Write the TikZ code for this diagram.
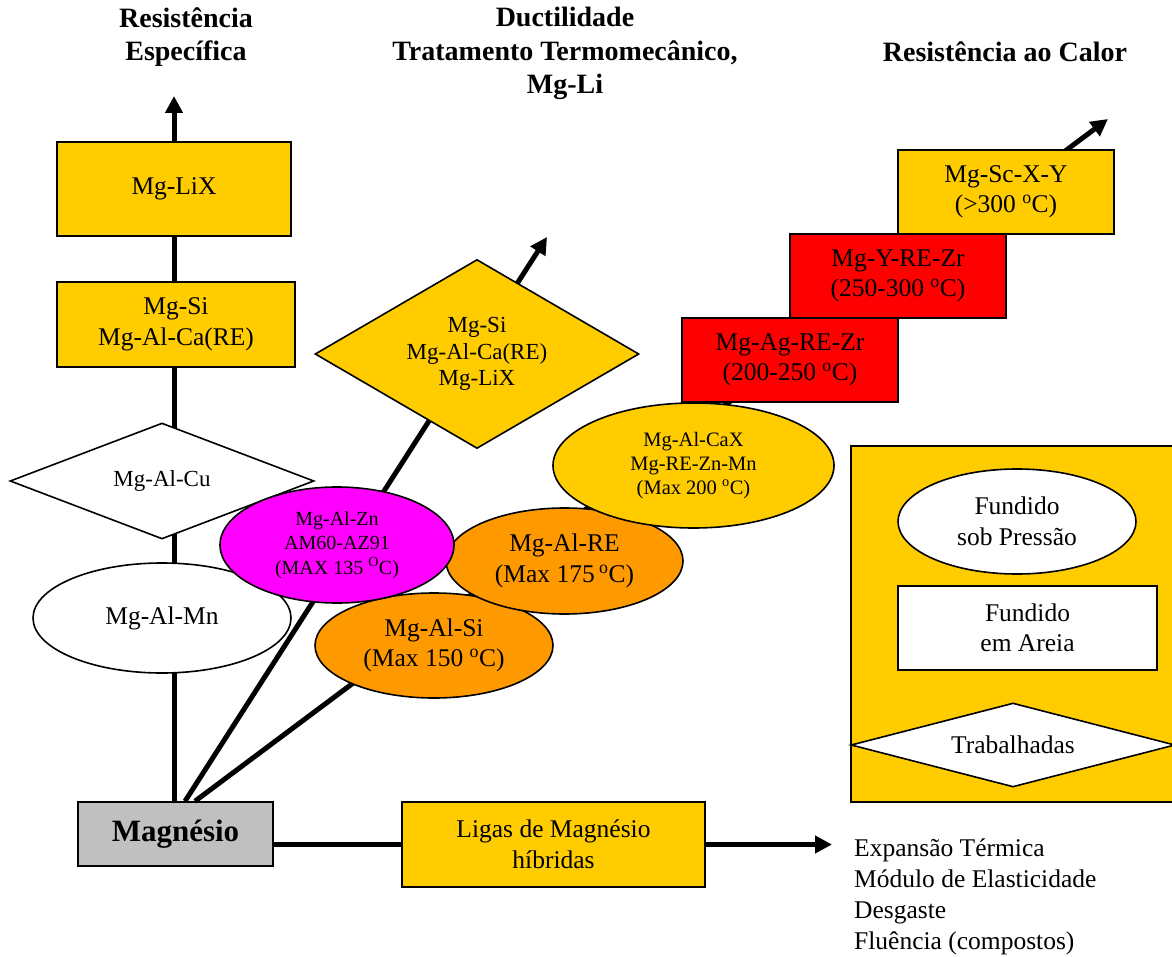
\documentclass[tikz,border=0pt]{standalone}
\usepackage{fontspec}
\setmainfont{Liberation Serif}
\usetikzlibrary{shapes.geometric,arrows.meta,calc}

\definecolor{gold}{HTML}{FFCC00}
\definecolor{amber}{HTML}{FF9900}
\definecolor{pink}{HTML}{FF00FF}
\definecolor{hot}{HTML}{FF0000}
\definecolor{metal}{HTML}{C0C0C0}

\newcommand{\dgr}{\textsuperscript{o}}

\tikzset{
  link/.style={line width=5pt},
  arr/.style={line width=5pt,-{Triangle[length=17pt,width=17pt]}},
  shp/.style={draw, line width=1.6pt, inner sep=0pt, align=center,
              font=\fontsize{25.5}{30.5}\selectfont},
  rbox/.style={shp, rectangle, minimum width=#1},
  ell/.style={shp, ellipse},
  dia/.style={shp, diamond},
  title/.style={align=center, font=\bfseries\fontsize{28}{33.5}\selectfont},
}

\begin{document}
\begin{tikzpicture}[x=1pt,y=-1pt]
\useasboundingbox (0,0) rectangle (1172,957);
\clip (0,0) rectangle (1172,957);

% headings of the three development directions
\node[title] (tRes) at (186,37) {Resistência\\Específica};
\node[title] (tDuc) at (565,53.5) {Ductilidade\\Tratamento Termomecânico,\\Mg-Li};
\node[title] (tCal) at (1005,52) {Resistência ao Calor};

% base material and hybrid alloys
\node[rbox=195pt, minimum height=64pt, fill=metal,
      font=\bfseries\fontsize{31}{36}\selectfont] (mag) at (175.5,834) {Magnésio};
\node[rbox=303pt, minimum height=85pt, fill=gold] (lig) at (553.5,844.5)
      {Ligas de Magnésio\\híbridas};

% axis end points
\coordinate (upTip) at (174,96);
\coordinate (ducTip) at (547,237);
\coordinate (calTip) at (1108,119);
\coordinate (propTip) at (832,844.5);

% connectors (drawn first, shapes sit on top)
\draw[arr] (mag.north -| upTip) -- (upTip);
\draw[arr] ($(mag.north)+(9.5,0)$) -- (ducTip);
\draw[arr] ($(mag.north)+(19.5,0)$) -- (calTip);
\draw[link] (lig.west -| mag.east) -- (lig.west);
\draw[arr] (lig.east) -- (propTip);

% specific strength branch
\node[rbox=234pt, minimum height=94pt, fill=gold] (lix) at (174,189) {Mg-LiX};
\node[rbox=238pt, minimum height=85pt, fill=gold] (mgsi) at (176,324.5)
      {Mg-Si\\Mg-Al-Ca(RE)};

% ductility branch
\node[dia, fill=gold, shape aspect=1.8, minimum width=324pt, minimum height=189pt,
      font=\fontsize{23}{26.5}\selectfont] (duc) at (477,354)
      {Mg-Si\\Mg-Al-Ca(RE)\\Mg-LiX};

% heat resistance branch
\node[rbox=216pt, minimum height=84pt, fill=gold] (sc) at (1006,192)
      {Mg-Sc-X-Y\\(>300 \dgr C)};
\node[rbox=216pt, minimum height=84pt, fill=hot] (yre) at (898,276)
      {Mg-Y-RE-Zr\\(250-300 \dgr C)};
\node[rbox=216pt, minimum height=84pt, fill=hot] (agre) at (790,360)
      {Mg-Ag-RE-Zr\\(200-250 \dgr C)};

% common alloys near the base
\node[ell, fill=amber, minimum width=238pt, minimum height=105pt] (alsi) at (434,645.5)
      {Mg-Al-Si\\(Max 150 \dgr C)};
\node[ell, fill=amber, minimum width=237pt, minimum height=106pt] (alre) at (564.5,561)
      {Mg-Al-RE\\(Max 175\,\dgr C)};
\node[ell, fill=gold, minimum width=281pt, minimum height=125pt,
      font=\fontsize{20.5}{24}\selectfont] (cax) at (693.5,465.5)
      {Mg-Al-CaX\\Mg-RE-Zn-Mn\\(Max 200 \dgr C)};
\node[ell, fill=white, minimum width=258pt, minimum height=110pt] (mn) at (162,618)
      {Mg-Al-Mn};
\node[dia, fill=white, shape aspect=2.6, minimum width=304pt, minimum height=116pt,
      font=\fontsize{23}{27}\selectfont] (cu) at (162,481) {Mg-Al-Cu};
\node[ell, fill=pink, minimum width=234pt, minimum height=116pt,
      font=\fontsize{20}{24.5}\selectfont] (zn) at (337,545)
      {Mg-Al-Zn\\AM60-AZ91\\(MAX 135 \textsuperscript{O}C)};

% legend of processing routes
\draw[line width=1.6pt, fill=gold] (851,446) rectangle (1185,802);
\node[ell, fill=white, minimum width=238pt, minimum height=105pt] (die) at (1017,521.5)
      {Fundido\\sob Pressão};
\node[rbox=259pt, minimum height=84pt, fill=white] (sand) at (1027.5,628)
      {Fundido\\em Areia};
\node[dia, fill=white, shape aspect=4, minimum width=324pt, minimum height=84pt] (wro)
      at (1013,745) {Trabalhadas};

% properties targeted by hybrid alloys
\node[anchor=west, align=left, inner sep=0pt, font=\fontsize{25.5}{31}\selectfont]
      (props) at (854,896.5)
      {Expansão Térmica\\Módulo de Elasticidade\\Desgaste\\Fluência (compostos)};
\end{tikzpicture}
\end{document}
